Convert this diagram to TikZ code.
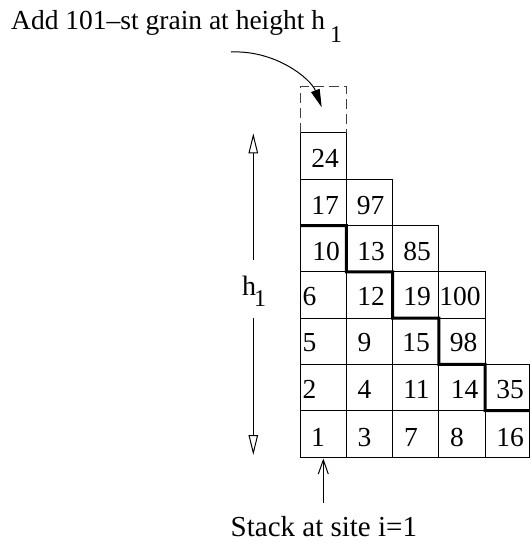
\documentclass[tikz,border=0pt]{standalone}
\usepackage{fontspec}
\setmainfont{Liberation Serif}
\usetikzlibrary{arrows.meta}
\begin{document}
\begin{tikzpicture}[x=1pt,y=-1pt,
  cell/.style={draw, line width=1pt, rectangle, inner sep=0pt, outer sep=0pt,
               minimum width=46.3pt, minimum height=46.3pt},
  narrowcell/.style={cell, minimum width=44.3pt},
  ghostcell/.style={rectangle, inner sep=0pt, outer sep=0pt,
               minimum width=46.3pt, minimum height=46.3pt},
  num/.style={inner sep=0pt, anchor=base, font=\fontsize{27.5}{30}\selectfont},
  lbl/.style={inner sep=0pt, font=\fontsize{27.5}{30}\selectfont},
  sublbl/.style={inner sep=0pt, anchor=base, font=\fontsize{24}{26}\selectfont},
  stair/.style={line width=3pt, line join=miter},
  dashbox/.style={dash pattern=on 10pt off 5pt, line width=1pt, black!75},
  openarrow/.style={line width=1pt, -{Triangle[open, length=20pt, width=9.5pt]}},
  barbarrow/.style={line width=1pt, -{Straight Barb[length=14pt, width=10pt]}},
  fallarrow/.style={line width=1pt, -{Triangle[length=18pt, width=9pt]}}]
\useasboundingbox (0,0) rectangle (532,542);

% column centres
\def\cA{323.15}\def\cB{369.45}\def\cC{415.75}\def\cD{462.05}\def\cE{507.35}
% row centres (row 1 at bottom)
\def\rA{433.85}\def\rB{387.55}\def\rC{341.25}\def\rD{294.95}\def\rE{248.65}\def\rF{202.35}\def\rG{156.05}\def\rH{109.75}

% cells
\node[cell] (c11) at (\cA,\rA) {};
\node[cell] (c12) at (\cA,\rB) {};
\node[cell] (c13) at (\cA,\rC) {};
\node[cell] (c14) at (\cA,\rD) {};
\node[cell] (c15) at (\cA,\rE) {};
\node[cell] (c16) at (\cA,\rF) {};
\node[cell] (c17) at (\cA,\rG) {};
\node[ghostcell] (c18) at (\cA,\rH) {};
\node[cell] (c21) at (\cB,\rA) {};
\node[cell] (c22) at (\cB,\rB) {};
\node[cell] (c23) at (\cB,\rC) {};
\node[cell] (c24) at (\cB,\rD) {};
\node[cell] (c25) at (\cB,\rE) {};
\node[cell] (c26) at (\cB,\rF) {};
\node[cell] (c31) at (\cC,\rA) {};
\node[cell] (c32) at (\cC,\rB) {};
\node[cell] (c33) at (\cC,\rC) {};
\node[cell] (c34) at (\cC,\rD) {};
\node[cell] (c35) at (\cC,\rE) {};
\node[cell] (c41) at (\cD,\rA) {};
\node[cell] (c42) at (\cD,\rB) {};
\node[cell] (c43) at (\cD,\rC) {};
\node[cell] (c44) at (\cD,\rD) {};
\node[narrowcell] (c51) at (\cE,\rA) {};
\node[narrowcell] (c52) at (\cE,\rB) {};

% numbers
\node[num] (n24) at (325,167) {24};
\node[num] (n17) at (325,214) {17};
\node[num] (n97) at (370.7,214) {97};
\node[num] (n10) at (326,260) {10};
\node[num] (n13) at (371,260) {13};
\node[num] (n85) at (417,260) {85};
\node[num] (n6) at (309.5,305) {6};
\node[num] (n12) at (371,305) {12};
\node[num] (n19) at (417,305) {19};
\node[num] (n100) at (460,305) {100};
\node[num] (n5) at (309.5,351.7) {5};
\node[num] (n9) at (364.5,351.7) {9};
\node[num] (n15) at (416,351.7) {15};
\node[num] (n98) at (463.5,351.7) {98};
\node[num] (n2) at (309.5,398) {2};
\node[num] (n4) at (364.5,398) {4};
\node[num] (n11) at (416.5,398) {11};
\node[num] (n14) at (464.5,398) {14};
\node[num] (n35) at (510,398) {35};
\node[num] (n1) at (318,446.7) {1};
\node[num] (n3) at (364.5,446.7) {3};
\node[num] (n7) at (411,446.7) {7};
\node[num] (n8) at (457,446.7) {8};
\node[num] (n16) at (510,446.7) {16};

% dashed box for the new grain
\draw[dashbox] (c18.south west) -- (c18.north west) -- (c18.north east) -- (c18.south east);

% staircase
\draw[stair] (c15.north west) -- (c15.north east) -- (c24.north west) -- (c24.north east)
  -- (c33.north west) -- (c33.north east) -- (c42.north west) -- (c42.north east)
  -- (c51.north west) -- (c51.north east);

% top label and falling arrow
\node[lbl, anchor=base west] (add) at (11,29.5) {Add 101--st grain at height h};
\node[sublbl] (addsub) at (336,42) {1};
\coordinate (fallstart) at (231,52);
\coordinate (falltip) at (321.7,107.3);
\draw[fallarrow] (fallstart) .. controls (276,50) and (311,79) .. (falltip);

% height arrow
\node[lbl, anchor=base, font=\fontsize{28}{30}\selectfont] (hlab) at (249.2,295) {h};
\node[sublbl] (hsub) at (260,306.7) {1};
\coordinate (hgapT) at (253.3,260);
\coordinate (htop) at (253.3,133.3);
\coordinate (hgapB) at (253.3,318);
\coordinate (hbot) at (253.3,455);
\draw[openarrow] (hgapT) -- (htop);
\draw[openarrow] (hgapB) -- (hbot);

% stack label and arrow
\node[lbl, anchor=base west, font=\fontsize{29}{31}\selectfont] (stack) at (230.5,536.5) {Stack at site i=1};
\coordinate (stkB) at (323.3,503);
\coordinate (stkT) at (323.3,458.5);
\draw[barbarrow] (stkB) -- (stkT);
\end{tikzpicture}
\end{document}
